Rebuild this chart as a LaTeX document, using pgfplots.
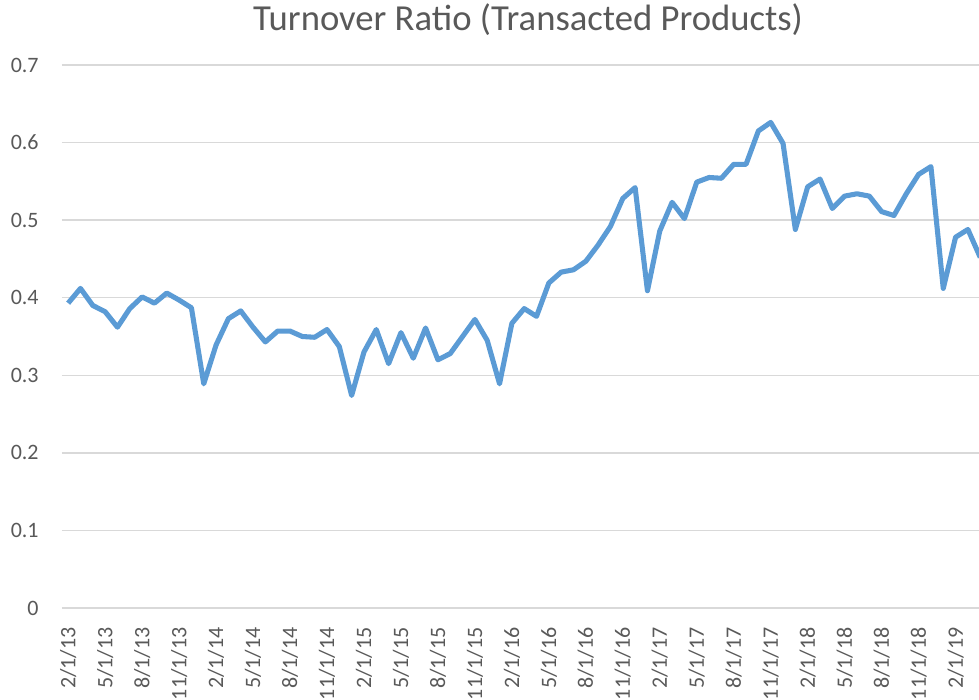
\documentclass[border=0pt]{standalone}
\usepackage{pgfplots}
\pgfplotsset{compat=1.18}
\usepackage{pgfplotstable}
\usepackage{fontspec}
\setmainfont{Carlito}
\definecolor{lineblue}{HTML}{5B9BD5}
\definecolor{txtgray}{HTML}{595959}
\definecolor{gridgray}{HTML}{D9D9D9}
\pgfplotstableread{
i v
0 0.393
1 0.412
2 0.390
3 0.382
4 0.362
5 0.386
6 0.401
7 0.393
8 0.406
9 0.397
10 0.387
11 0.289
12 0.339
13 0.373
14 0.383
15 0.362
16 0.343
17 0.357
18 0.357
19 0.350
20 0.349
21 0.359
22 0.337
23 0.274
24 0.330
25 0.359
26 0.315
27 0.355
28 0.322
29 0.361
30 0.320
31 0.328
32 0.350
33 0.372
34 0.345
35 0.289
36 0.367
37 0.386
38 0.376
39 0.419
40 0.433
41 0.436
42 0.447
43 0.468
44 0.492
45 0.528
46 0.542
47 0.409
48 0.486
49 0.523
50 0.502
51 0.549
52 0.555
53 0.554
54 0.572
55 0.572
56 0.615
57 0.626
58 0.599
59 0.488
60 0.543
61 0.553
62 0.515
63 0.531
64 0.534
65 0.531
66 0.511
67 0.506
68 0.534
69 0.559
70 0.569
71 0.412
72 0.478
73 0.488
74 0.452
}\turnover
\begin{document}
\begin{tikzpicture}
\path[use as bounding box] (-46.5pt,-69pt) rectangle (687.75pt,456pt);
\begin{axis}[
  at={(0,0)}, anchor=south west,
  scale only axis,
  width=687.75pt, height=407.25pt,
  xmin=-0.5, xmax=73.9,
  ymin=0, ymax=0.7,
  clip=true,
  axis line style={draw=none},
  major tick length=0pt,
  ymajorgrids,
  grid style={gridgray, line width=1.1pt},
  ytick={0,0.1,0.2,0.3,0.4,0.5,0.6,0.7},
  yticklabels={0,0.1,0.2,0.3,0.4,0.5,0.6,0.7},
  xtick={0,3,...,72},
  xticklabels={2/1/13,5/1/13,8/1/13,11/1/13,2/1/14,5/1/14,8/1/14,11/1/14,2/1/15,5/1/15,8/1/15,11/1/15,2/1/16,5/1/16,8/1/16,11/1/16,2/1/17,5/1/17,8/1/17,11/1/17,2/1/18,5/1/18,8/1/18,11/1/18,2/1/19},
  tick label style={font=\fontsize{16.5pt}{19pt}\selectfont, text=txtgray},
  xticklabel style={rotate=90, anchor=east, xshift=-11pt},
  yticklabel style={anchor=east, xshift=-14pt},
  /pgf/number format/assume math mode=true,
]
\addplot[lineblue, line width=3.8pt, line join=round, no marks] table[x=i, y=v] {\turnover};
\end{axis}
\node[text=txtgray, font=\fontsize{27.5pt}{31pt}\selectfont] at (349.5pt,441pt) {Turnover Ratio (Transacted Products)};
\end{tikzpicture}
\end{document}
